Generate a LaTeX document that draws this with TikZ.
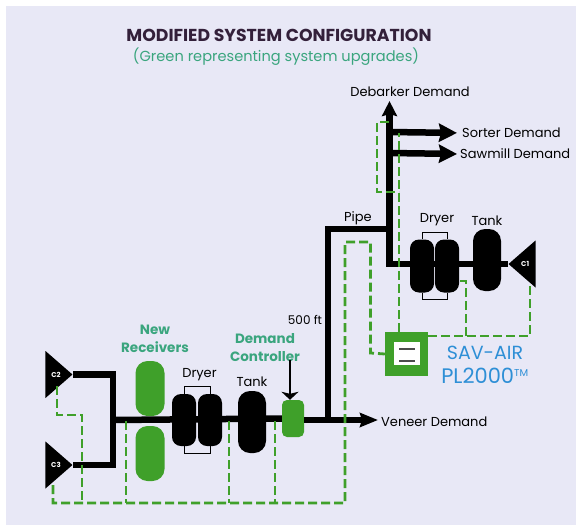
\documentclass[tikz,border=0pt]{standalone}
\usepackage{fontspec}
\setmainfont{Poppins}
\usepackage{tikz}
\usetikzlibrary{calc}
\usetikzlibrary{arrows.meta}
\usetikzlibrary{shapes.geometric}
\definecolor{panel}{HTML}{E8E8F6}
\definecolor{upgrade}{HTML}{3FA02A}
\definecolor{caption}{HTML}{3AA57E}
\definecolor{brand}{HTML}{2E8FD6}
\definecolor{heading}{HTML}{33203A}
\tikzstyle{vessel}=[rectangle, fill=black, rounded corners=9pt, inner sep=0pt]
\tikzstyle{newvessel}=[vessel, fill=upgrade]
\tikzstyle{comp}=[isosceles triangle, isosceles triangle stretches, fill=black, text=white, inner sep=0pt, minimum width=47pt, minimum height=27pt, font=\bfseries\fontsize{7}{7}\selectfont]
\tikzstyle{pipe}=[line width=6.5pt]
\tikzstyle{air}=[upgrade, line width=2.8pt, dash pattern=on 9pt off 4pt]
\tikzstyle{bracket}=[line width=1pt]
\tikzstyle{lbl}=[font=\fontsize{13}{13}\selectfont, inner sep=0pt]
\tikzstyle{newlbl}=[font=\bfseries\fontsize{13.5}{18}\selectfont, text=caption, inner sep=0pt, align=center]
\begin{document}
\begin{tikzpicture}[x=1pt,y=-1pt]

    \useasboundingbox (0,0) rectangle (576,525);
    \fill [panel] (6,6) rectangle (576,525);

    %title
    \node (title) at (279,35) {\bfseries\fontsize{17.3}{18}\selectfont\textcolor{heading}{MODIFIED SYSTEM CONFIGURATION}};
    \node (subtitle) at (276,57) {\fontsize{14.6}{16}\selectfont\textcolor{caption}{(Green representing system upgrades)}};

    %compressors
    \node [comp, anchor=apex] (c2) at (73,374.5) {C2};
    \node [comp, anchor=apex] (c3) at (73,465) {C3};
    \node [comp, anchor=apex, shape border rotate=180] (c1) at (508,264) {C1};

    %lower plant
    \node [vessel, minimum width=24pt, minimum height=52pt] (dryerla) at (184,420) {};
    \node [vessel, minimum width=24pt, minimum height=52pt] (dryerlb) at (210,420) {};
    \node [vessel, rounded corners=12pt, minimum width=28pt, minimum height=62pt] (tankl) at (252,422) {};
    \node [newvessel, rounded corners=5pt, minimum width=22pt, minimum height=37pt] (ctrl) at (293,418.5) {};

    %upper plant
    \node [vessel, minimum width=24pt, minimum height=53pt] (dryerua) at (422,266) {};
    \node [vessel, minimum width=24pt, minimum height=53pt] (dryerub) at (447,266) {};
    \node [vessel, rounded corners=12pt, minimum width=28pt, minimum height=62pt] (tanku) at (487,260) {};

    %pipe junctions
    \coordinate (tee) at (113,420);
    \coordinate (riser) at (328,420);
    \coordinate (elbow) at (328,229);
    \coordinate (header) at (389.5,229);
    \coordinate (foot) at (389.5,264);
    \coordinate (ctrlfeed) at (290,360);

    %pipes
    \draw [pipe, line join=miter] (c2.apex) -| (tee) |- (c3.apex);
    \draw [pipe] (tee) -- (ctrl.west);
    \draw [pipe, line join=miter] (riser) -- (elbow) -- (header);
    \draw [pipe, line join=miter] (c1.apex) -- (foot) -- (389.5,122);

    %demand arrows
    \node [lbl, anchor=west] (veneerd) at (381,422) {Veneer Demand};
    \node [lbl] (debarker) at (410,92) {Debarker Demand};
    \node [lbl, anchor=west] (sorter) at (462,133) {Sorter Demand};
    \node [lbl, anchor=west] (sawmill) at (460,154) {Sawmill Demand};
    \draw [pipe, shorten >=3pt, -{Stealth[length=18pt,width=14pt,inset=2pt]}] (ctrl.east |- tee) -- (veneerd.west |- tee);
    \draw [pipe, shorten >=4pt, -{Stealth[length=15pt,width=15pt,inset=2pt]}] (389.5,125) -- (debarker.south -| 389.5,0);
    \draw [pipe, shorten >=5pt, -{Stealth[length=18pt,width=18pt,inset=2pt]}] (389.5,132) -- (sorter.west);
    \draw [pipe, shorten >=3pt, -{Stealth[length=18pt,width=18pt,inset=2pt]}] (389.5,153) -- (sawmill.west);

    %receivers
    \node [newvessel, rounded corners=12pt, minimum width=29pt, minimum height=55pt] (recva) at (150,388.5) {};
    \node [newvessel, rounded corners=12pt, minimum width=29pt, minimum height=55pt] (recvb) at (150,453.5) {};

    %dryer brackets
    \draw [bracket] (dryerla.north) -- ++(0,-7) -| (dryerlb.north);
    \draw [bracket] (dryerla.south) -- ++(0,7) -| (dryerlb.south);
    \draw [bracket] (dryerua.north) -- ++(0,-7) -| (dryerub.north);
    \draw [bracket] (dryerua.south) -- ++(0,7) -| (dryerub.south);

    %sav-air box
    \node [rectangle, fill=upgrade, minimum width=43pt, minimum height=44pt, inner sep=0pt] (box) at (406.5,354) {};
    \node [rectangle, fill=white, minimum width=26pt, minimum height=23pt, inner sep=0pt] (screen) at (407,353.5) {};
    \draw [line width=1.5pt, black!70] (399,349) -- (415,349);
    \draw [line width=1.5pt, black!70] (399,361) -- (415,361);

    %air signal lines
    \draw [air] (53,485) -- (53,503) -- (345,503) -- (345,242) -- (370.5,242) -- (370.5,353) -- (box.west);
    \draw [air] (57,386) -- (57,415) -- (82,415) -- (82,503);
    \foreach \x in {126,229,275}{\draw [air] (\x,421) -- (\x,503);}
    \draw [air] (box.north -| 399,0) -- (399,133);
    \draw [air] (389,122) -- (377,122) -- (377,192) -- (399,192);
    \draw [air] (box.east |- 0,336) -- (530,336) -- (530,286);
    \draw [air] (466,336) -- (466,281) -- (dryerub.east |- 0,281);

    %labels
    \node [lbl] (dryerllbl) at (199.5,375) {Dryer};
    \node [lbl] (tankllbl) at (252,382) {Tank};
    \node [lbl, font=\fontsize{12}{12}\selectfont] (ftlbl) at (305,320) {500 ft};
    \node [lbl] (pipelbl) at (358,218) {Pipe};
    \node [lbl] (dryerulbl) at (437,220) {Dryer};
    \node [lbl] (tankulbl) at (487,221) {Tank};
    \node [newlbl] (newlbl) at (155,339) {New\\Receivers};
    \node [newlbl] (ctrllbl) at (265,348) {Demand\\Controller};
    \node [font=\fontsize{19}{24}\selectfont, text=brand, align=center, inner sep=0pt] (savlbl) at (485,365) {SAV-AIR\\\fontsize{21}{24}\selectfont PL2000\textsuperscript{\fontsize{10}{10}\selectfont TM}};

    %controller arrow
    \draw [line width=1.5pt, -{Stealth[length=8pt,width=17pt,inset=2pt]}] (ctrlfeed) -- (ctrl.north -| ctrlfeed);

\end{tikzpicture}
\end{document}
